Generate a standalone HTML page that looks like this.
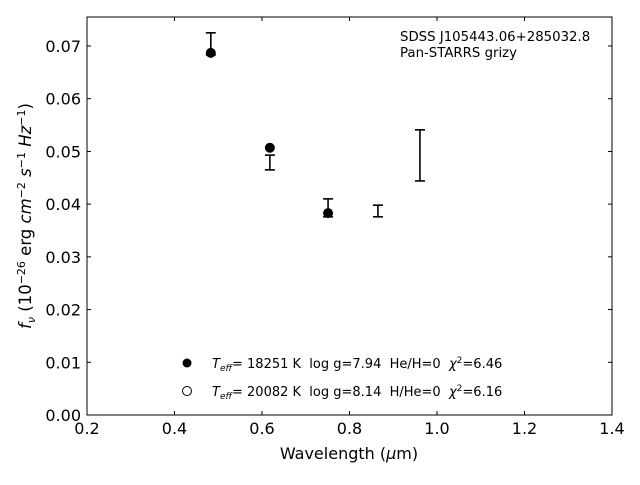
<!DOCTYPE html>
<html><head><meta charset="utf-8"><style>
body{margin:0;background:#fff}
svg text{font-family:"DejaVu Sans","Liberation Sans",sans-serif;white-space:pre}
</style></head><body>
<svg id="chart" width="640" height="480" xmlns="http://www.w3.org/2000/svg">
<rect x="87" y="17" width="525" height="398" fill="none" stroke="#000" stroke-width="1"/>
<g id="ticks"></g>
<g id="marks"></g>
<text x="400" y="41" font-size="13.3">SDSS J105443.06+285032.8</text>
<text x="400" y="57" font-size="13.3">Pan-STARRS grizy</text>
<text x="349" y="459" font-size="16" text-anchor="middle">Wavelength (<tspan font-style="italic">μ</tspan>m)</text>
<text transform="translate(31,216) rotate(-90)" font-size="16.5" text-anchor="middle"><tspan font-style="italic">f</tspan><tspan font-style="italic" font-size="11" dy="4">ν</tspan><tspan dy="-4"> (10</tspan><tspan font-size="11" dy="-6">−26</tspan><tspan dy="6"> erg </tspan><tspan font-style="italic">cm</tspan><tspan font-size="11" dy="-6">−2</tspan><tspan dy="6" font-style="italic"> s</tspan><tspan font-size="11" dy="-6">−1</tspan><tspan dy="6" font-style="italic"> Hz</tspan><tspan font-size="11" dy="-6">−1</tspan><tspan dy="6">)</tspan></text>
<g>
<circle cx="187" cy="363" r="4.5" fill="#000"/>
<text x="212" y="368" font-size="13"><tspan font-style="italic">T</tspan><tspan font-style="italic" font-size="9" dy="3">eff</tspan><tspan dy="-3">= 18251 K  log g=7.94  He/H=0  </tspan><tspan font-style="italic">χ</tspan><tspan font-size="9" dy="-5">2</tspan><tspan dy="5">=6.46</tspan></text>
<circle cx="187" cy="391" r="4.5" fill="#fff" stroke="#000"/>
<text x="212" y="396" font-size="13"><tspan font-style="italic">T</tspan><tspan font-style="italic" font-size="9" dy="3">eff</tspan><tspan dy="-3">= 20082 K  log g=8.14  H/He=0  </tspan><tspan font-style="italic">χ</tspan><tspan font-size="9" dy="-5">2</tspan><tspan dy="5">=6.16</tspan></text>
</g>
</svg>
<script>
const wavelengths=[0.483,0.618,0.751,0.865,0.961];
const obsLow=[0.0683,0.0465,0.0376,0.0376,0.0444];
const obsHigh=[0.0725,0.0493,0.0410,0.0398,0.0541];
const modelWl=[0.483,0.618,0.751];
const modelFlux=[0.0687,0.0507,0.0383];
const xTicks=[0.2,0.4,0.6,0.8,1.0,1.2,1.4];
const xTickLabels=["0.2","0.4","0.6","0.8","1.0","1.2","1.4"];
const yTicks=[0,0.01,0.02,0.03,0.04,0.05,0.06,0.07];
const yTickLabels=["0.00","0.01","0.02","0.03","0.04","0.05","0.06","0.07"];
const NS="http://www.w3.org/2000/svg";
const X=v=>87+(v-0.2)/1.2*525;
const Y=v=>415-v/0.07*369;
function mk(t,a,p){const e=document.createElementNS(NS,t);for(const k in a)e.setAttribute(k,a[k]);p.appendChild(e);return e;}
const tg=document.getElementById('ticks'),mg=document.getElementById('marks');
xTicks.forEach((v,i)=>{const x=X(v);
const a=mk('line',{x1:x,x2:x,y1:415,y2:411,stroke:'#000'},tg);


const b=mk('line',{x1:x,x2:x,y1:17,y2:21,stroke:'#000'},tg);


const t=mk('text',{x:x,y:434,'font-size':16,'text-anchor':'middle'},tg);t.textContent=xTickLabels[i];

});
yTicks.forEach((v,i)=>{const y=Y(v);
const a=mk('line',{x1:87,x2:91,y1:y,y2:y,stroke:'#000'},tg);


const b=mk('line',{x1:608,x2:612,y1:y,y2:y,stroke:'#000'},tg);


const t=mk('text',{x:81,y:y+6,'font-size':16,'text-anchor':'end'},tg);t.textContent=yTickLabels[i];

});
wavelengths.forEach((w,i)=>{const x=X(w),y1=Y(obsHigh[i]),y2=Y(obsLow[i]);
const g=mk('g',{stroke:'#000','stroke-width':1.6},mg);


mk('line',{x1:x,x2:x,y1:y1,y2:y2},g);
mk('line',{x1:x-5,x2:x+5,y1:y1,y2:y1},g);
mk('line',{x1:x-5,x2:x+5,y1:y2,y2:y2},g);});
modelWl.forEach((w,i)=>{
const c=mk('circle',{cx:X(w),cy:Y(modelFlux[i]),r:5,fill:'#000'},mg);

});
</script>
</body></html>
